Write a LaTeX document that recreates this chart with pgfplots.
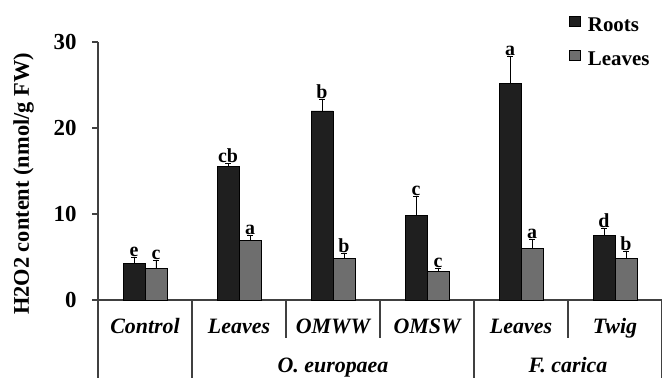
\documentclass[border=0pt]{standalone}
\usepackage{fontspec}
\setmainfont{Liberation Serif}
\usepackage{pgfplots}
\pgfplotsset{compat=1.18}
\usepackage{pgfplotstable}

\definecolor{rootc}{HTML}{1F1F1F}
\definecolor{leafc}{HTML}{6E6E6E}
\definecolor{axc}{HTML}{404040}
\newcommand\fs[1]{\fontsize{#1}{#1}\selectfont}

\pgfplotstableread{
x r re rl l le ll
0 4.3 0.6 e 3.7 0.9 c
1 15.5 0.4 cb 6.9 0.6 a
2 22.0 1.3 b 4.8 0.6 b
3 9.8 2.3 c 3.3 0.4 c
4 25.2 3.1 a 6.0 1.1 a
5 7.5 0.8 d 4.8 0.9 b
}\data

\begin{document}
\begin{tikzpicture}
\begin{axis}[
  scale only axis, width=564bp, height=258bp,
  xmin=-0.5, xmax=5.5, ymin=0, ymax=30,
  ybar, bar width=0.234,
  axis x line=bottom, axis y line=left,
  axis line style={-, line width=1.2bp, draw=axc},
  xtick={0,...,5},
  xticklabels={Control,Leaves,OMWW,OMSW,Leaves,Twig},
  x tick style={draw=none},
  xticklabel style={font=\bfseries\itshape\fs{22}, anchor=base, yshift=-27bp},
  ytick={0,10,20,30},
  y tick style={line width=1.2bp, draw=axc},
  tick align=outside, major tick length=6bp,
  yticklabel style={font=\bfseries\fs{23}, xshift=-12bp},
  /pgf/number format/assume math mode=true,
  ylabel={H2O2 content (nmol/g FW)},
  ylabel style={font=\bfseries\fs{22.5}, at={(axis description cs:-0.132,0.45)}, anchor=center},
  clip=false,
  legend style={at={(0.83,1.11)}, anchor=north west, draw=none, fill=none,
    font=\bfseries\fs{21}, row sep=15bp, column sep=5bp},
  legend cell align=left,
  error bars/y dir=plus, error bars/y explicit,
  error bars/error bar style={line width=0.8bp, black},
  error bars/error mark options={rotate=90, mark size=3bp, line width=0.8bp, black},
]
\addplot[fill=rootc, draw=black, line width=0.6bp, bar shift=-0.117,
  legend image code/.code={\draw[fill=rootc, draw=black, line width=0.6bp] (0bp,-1bp) rectangle (11bp,9bp);}]
  table[x=x, y=r, y error=re] {\data};
\addlegendentry{Roots}
\addplot[fill=leafc, draw=black, line width=0.6bp, bar shift=0.117,
  legend image code/.code={\draw[fill=leafc, draw=black, line width=0.6bp] (0bp,-1bp) rectangle (11bp,9bp);}]
  table[x=x, y=l, y error=le] {\data};
\addlegendentry{Leaves}
\addplot[draw=none, fill=none, bar shift=-0.117, forget plot, nodes near coords,
  point meta=explicit symbolic, error bars/y explicit=false,
  nodes near coords style={font=\bfseries\fs{20}, anchor=south, inner sep=0.5bp}]
  table[x=x, y expr=\thisrow{r}+\thisrow{re}, meta=rl] {\data};
\addplot[draw=none, fill=none, bar shift=0.117, forget plot, nodes near coords,
  point meta=explicit symbolic, error bars/y explicit=false,
  nodes near coords style={font=\bfseries\fs{20}, anchor=south, inner sep=0.5bp}]
  table[x=x, y expr=\thisrow{l}+\thisrow{le}, meta=ll] {\data};
\draw[line width=1.2bp, draw=axc] (axis cs:-0.5,0) -- ([yshift=-78bp]axis cs:-0.5,0);
\draw[line width=1.2bp, draw=axc] (axis cs:0.5,0) -- ([yshift=-78bp]axis cs:0.5,0);
\draw[line width=1.2bp, draw=axc] (axis cs:1.5,0) -- ([yshift=-38bp]axis cs:1.5,0);
\draw[line width=1.2bp, draw=axc] (axis cs:2.5,0) -- ([yshift=-38bp]axis cs:2.5,0);
\draw[line width=1.2bp, draw=axc] (axis cs:3.5,0) -- ([yshift=-78bp]axis cs:3.5,0);
\draw[line width=1.2bp, draw=axc] (axis cs:4.5,0) -- ([yshift=-38bp]axis cs:4.5,0);
\draw[line width=1.2bp, draw=axc] (axis cs:5.5,0) -- ([yshift=-78bp]axis cs:5.5,0);
\node[font=\bfseries\itshape\fs{22}, anchor=base] at (axis cs:2,0) [yshift=-72bp] {O. europaea};
\node[font=\bfseries\itshape\fs{22}, anchor=base] at (axis cs:4.5,0) [yshift=-72bp] {F. carica};
\end{axis}
\pgfresetboundingbox
\path ([xshift=-98bp,yshift=-78bp]current axis.south west) rectangle ([yshift=42bp]current axis.north east);
\end{tikzpicture}
\end{document}
